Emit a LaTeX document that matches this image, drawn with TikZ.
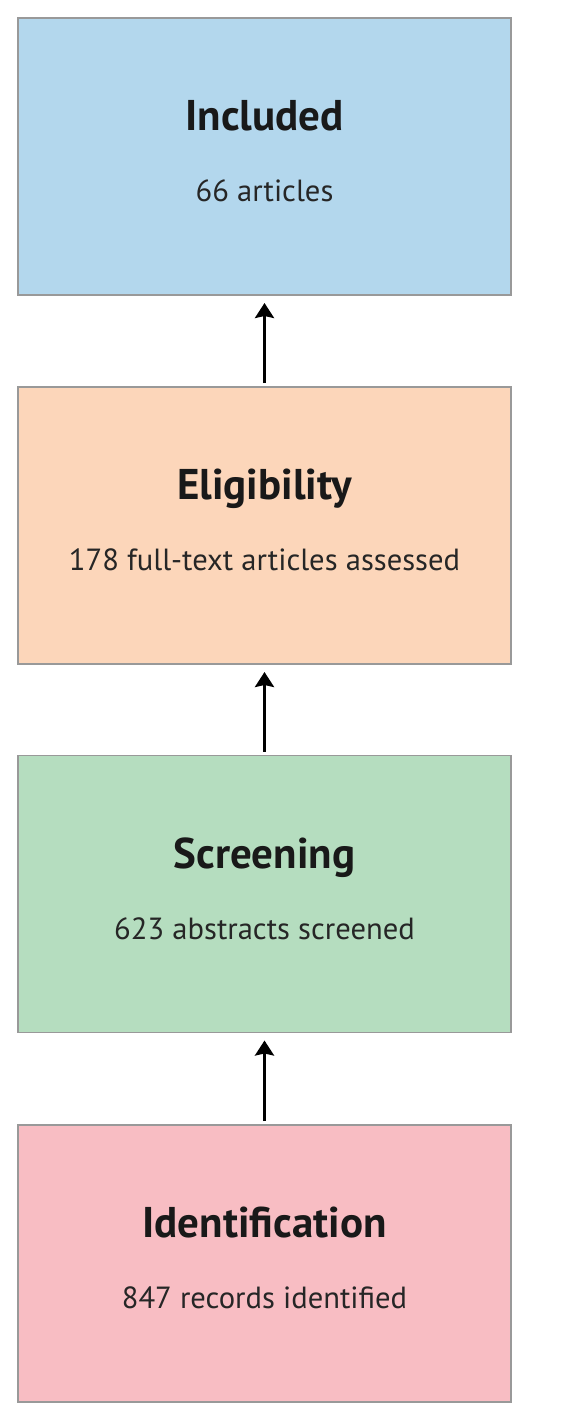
\documentclass[tikz,border=0pt]{standalone}
\usepackage{fontspec}
\setmainfont{PT Sans}
\usetikzlibrary{arrows.meta}
\definecolor{inclblue}{RGB}{179,215,237}
\definecolor{eligorange}{RGB}{252,214,186}
\definecolor{screengreen}{RGB}{181,221,191}
\definecolor{identpink}{RGB}{248,189,195}
\tikzset{
	stage/.style={draw=black!40,line width=.8pt,minimum width=246.5pt,minimum height=138.5pt,inner sep=0pt,outer sep=0pt},
	stagetitle/.style={anchor=base,text=black!90,font=\fontsize{21.5}{25}\selectfont\bfseries},
	stagesub/.style={anchor=base,text=black!85,font=\fontsize{15.3}{18}\selectfont},
	flow/.style={-{Stealth[length=7.5pt,width=9.5pt,inset=1pt]},line width=1.5pt}
}
\begin{document}
\begin{tikzpicture}[x=.5pt,y=-.5pt]
	\useasboundingbox(0,0)rectangle(565,1424);
	\node[stage,fill=inclblue](inc)at(264.5,156.5){};
	\node[stage,fill=eligorange](eli)at(264.5,525.5){};
	\node[stage,fill=screengreen](scr)at(264.5,894){};
	\node[stage,fill=identpink](ide)at(264.5,1263.5){};
	\node[stagetitle](inc-t)at([yshift=13pt]inc.center){Included};
	\node[stagesub](inc-s)at([yshift=-22.5pt]inc.center){66 articles};
	\node[stagetitle](eli-t)at([yshift=13pt]eli.center){Eligibility};
	\node[stagesub](eli-s)at([yshift=-22.5pt]eli.center){178 full-text articles assessed};
	\node[stagetitle](scr-t)at([yshift=13pt]scr.center){Screening};
	\node[stagesub](scr-s)at([yshift=-22.5pt]scr.center){623 abstracts screened};
	\node[stagetitle](ide-t)at([yshift=13pt]ide.center){Identification};
	\node[stagesub](ide-s)at([yshift=-22.5pt]ide.center){847 records identified};
	\draw[flow]([yshift=2pt]eli.north)--([yshift=-4pt]inc.south);
	\draw[flow]([yshift=2pt]scr.north)--([yshift=-4pt]eli.south);
	\draw[flow]([yshift=2pt]ide.north)--([yshift=-4pt]scr.south);
\end{tikzpicture}
\end{document}
